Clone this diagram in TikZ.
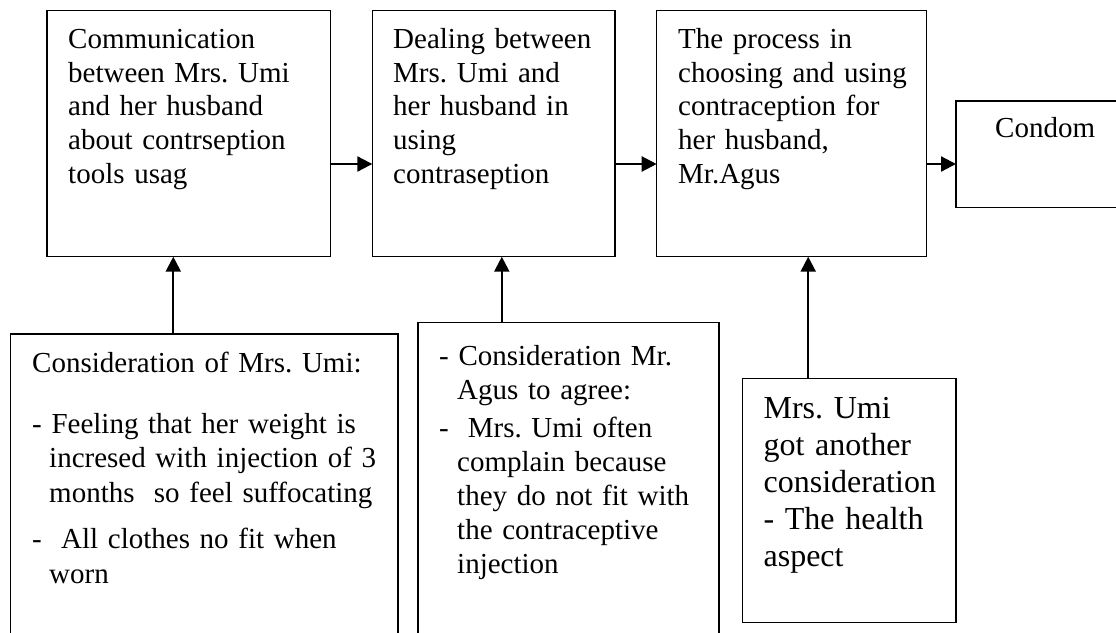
\documentclass[tikz,border=0pt]{standalone}
\usepackage{fontspec}
\setmainfont{Liberation Serif}
\frenchspacing
\usetikzlibrary{arrows.meta}
\tikzset{
  box/.style={draw, line width=1.5pt, inner sep=0pt, outer sep=0pt},
  txt/.style={anchor=base west, inner sep=0pt, text width=400pt, align=left,
    font={\fontsize{29}{33.8}\selectfont}},
  arr/.style={line width=2.2pt, -{Triangle[length=15pt,width=15pt]}},
}
\begin{document}
\begin{tikzpicture}[x=1pt,y=-1pt]
	\useasboundingbox (0,0) rectangle (1116,632);
	\clip (0,0) rectangle (1116,632);
	% riquadri in alto
	\node[box, minimum width=283.7pt, minimum height=246pt] (comm) at (188.85,133.7) {};
	\node[box, minimum width=242.7pt, minimum height=246pt] (deal) at (493.65,133.7) {};
	\node[box, minimum width=270pt, minimum height=246pt] (proc) at (791.7,133.7) {};
	\node[box, minimum width=180pt, minimum height=106.7pt] (cond) at (1046,154.35) {};
	% riquadri in basso
	\node[box, minimum width=387.3pt, minimum height=320pt] (consumi) at (204.35,494) {};
	\node[box, minimum width=301pt, minimum height=330pt] (consagus) at (568.5,487.7) {};
	\node[box, minimum width=213.6pt, minimum height=244pt] (health) at (849.2,500.7) {};
	% testi
	\node[txt] (commtxt) at (68,48.3) {Communication\\between Mrs. Umi\\and her husband\\about contrseption\\tools usag};
	\node[txt] (dealtxt) at (393,48.3) {Dealing between\\Mrs. Umi and\\her husband in\\using\\contraseption};
	\node[txt] (proctxt) at (678,48.3) {The process in\\choosing and using\\contraception for\\her husband,\\Mr.Agus};
	\node[txt] (condtxt) at (995,137.5) {Condom};
	\node[txt, font={\fontsize{29}{34.5}\selectfont}] (umitxt) at (32,372) {Consideration of Mrs. Umi:\\[26.5pt]
		- Feeling that her weight is\\\hspace*{17pt}incresed with injection of 3\\\hspace*{17pt}months\ \ so feel suffocating\\[12pt]
		-\ \ All clothes no fit when\\\hspace*{17pt}worn};
	\node[txt, font={\fontsize{29}{34}\selectfont}] (agustxt) at (439,365) {- Consideration Mr.\\\hspace*{18pt}Agus to agree:\\[4pt]
		-\hspace{19pt}Mrs. Umi often\\\hspace*{18pt}complain because\\\hspace*{18pt}they do not fit with\\\hspace*{18pt}the contraceptive\\\hspace*{18pt}injection};
	\node[txt, font={\fontsize{32}{37}\selectfont}] (healthtxt) at (763.4,418.3) {Mrs. Umi\\got another\\consideration\\- The health\\aspect};
	% frecce
	\coordinate (riga) at (0,164);
	\coordinate (c1) at (173.3,0);
	\coordinate (c2) at (501.8,0);
	\coordinate (c3) at (808.2,0);
	\draw[arr] (comm.east |- riga) -- (deal.west |- riga);
	\draw[arr] (deal.east |- riga) -- (proc.west |- riga);
	\draw[arr] (proc.east |- riga) -- (cond.west |- riga);
	\draw[arr] (consumi.north -| c1) -- (comm.south -| c1);
	\draw[arr] (consagus.north -| c2) -- (deal.south -| c2);
	\draw[arr] (health.north -| c3) -- (proc.south -| c3);
\end{tikzpicture}
\end{document}
